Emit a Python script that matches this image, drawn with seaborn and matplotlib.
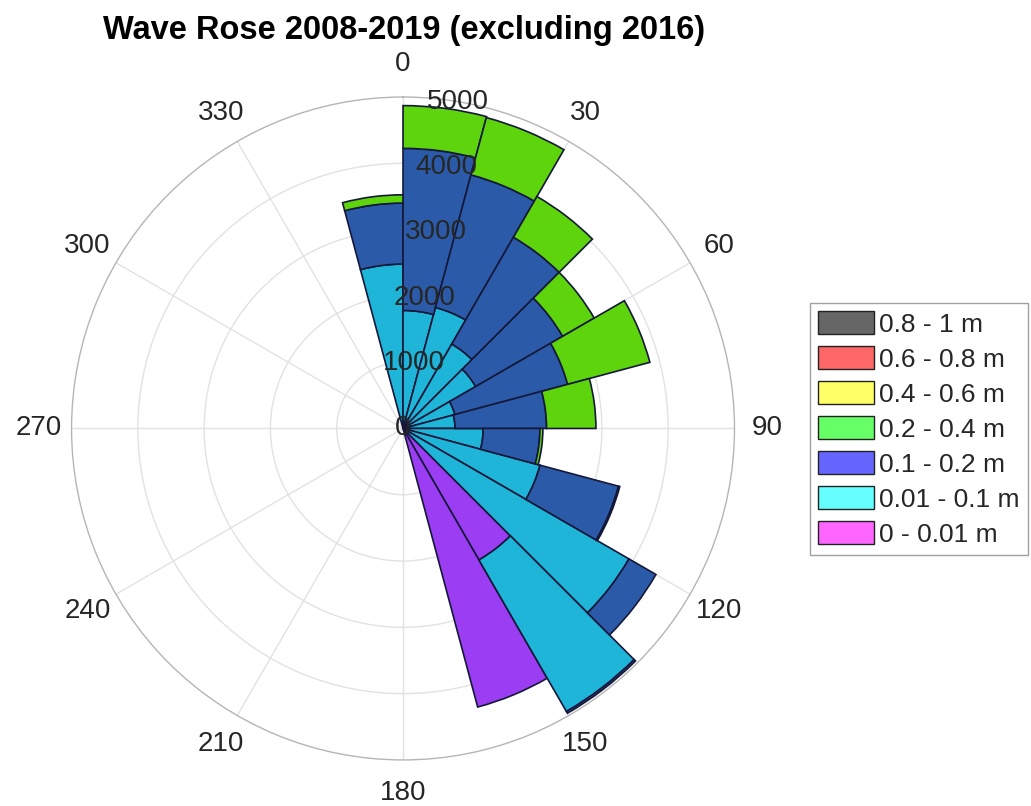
import numpy as np
import matplotlib
matplotlib.use("Agg")
import matplotlib.pyplot as plt
from matplotlib.patches import Patch
import seaborn as sns

# Direction bins (start of each 15-degree sector, compass degrees)
dir_start = [345, 0, 15, 30, 45, 60, 75, 90, 105, 120, 135, 150]
bin_width = 15

# Counts per wave-height class in each direction bin
h_0_001 = [0, 0, 0, 0, 0, 0, 0, 0, 0, 0, 2290, 4350]
h_001_01 = [2480, 1780, 1890, 1470, 1265, 810, 785, 1210, 2140, 3935, 2640, 0]
h_01_02 = [920, 2445, 2070, 1860, 1515, 1760, 1380, 855, 1225, 470, 30, 0]
h_02_04 = [125, 645, 895, 710, 550, 1285, 745, 45, 20, 0, 0, 0]
h_04_06 = [0] * 12
h_06_08 = [0] * 12
h_08_1 = [0] * 12

class_labels = ["0 - 0.01 m", "0.01 - 0.1 m", "0.1 - 0.2 m", "0.2 - 0.4 m",
                "0.4 - 0.6 m", "0.6 - 0.8 m", "0.8 - 1 m"]
r_ticks = [0, 1000, 2000, 3000, 4000, 5000]
theta_ticks = list(range(0, 360, 30))

bar_colors = ["#9b3df2", "#1eb5d8", "#2b5ba8", "#5ed40c",
              "#e8e83a", "#e84a4a", "#555555"]
legend_colors = ["#ff66ff", "#66ffff", "#6666ff", "#66ff66",
                 "#ffff66", "#ff6666", "#666666"]

sns.set_style("white")
plt.rcParams["font.family"] = ["Liberation Sans", "DejaVu Sans"]

fig = plt.figure(figsize=(10.31, 8.06), dpi=100)
ax = fig.add_axes([0.0694, 0.0571, 0.643, 0.8226], projection="polar")
ax.set_theta_zero_location("N")
ax.set_theta_direction(-1)

theta = np.deg2rad(np.array(dir_start) + bin_width / 2)
width = np.deg2rad(bin_width)
series = [h_0_001, h_001_01, h_01_02, h_02_04, h_04_06, h_06_08, h_08_1]
bottom = np.zeros(len(dir_start))
for vals, col in zip(series, bar_colors):
    vals = np.array(vals, dtype=float)
    mask = vals > 0
    ax.bar(theta[mask], vals[mask], width=width, bottom=bottom[mask],
           color=col, edgecolor="#15183a", linewidth=1.2, zorder=3)
    bottom += vals

r_max = r_ticks[-1]
ax.set_ylim(0, r_max)
ax.set_yticks(r_ticks[1:-1])
ax.set_yticklabels([])
ax.set_xticks(np.deg2rad(theta_ticks))
ax.set_xticklabels([])
ax.grid(True, color="#e2e2e2", linewidth=1.0)
ax.set_axisbelow(True)
ax.spines["polar"].set_color("#b5b5b5")
ax.spines["polar"].set_linewidth(1.0)

# direction labels, centred a fixed distance outside the rim
label_r = r_max * (1 + 33 / 331.5)
for t in theta_ticks:
    ax.text(np.deg2rad(t), label_r, str(t), fontsize=20, color="#262626",
            ha="center", va="center", clip_on=False)

# radial labels along a line slightly clockwise of north
for r in r_ticks:
    ax.text(np.deg2rad(9.5) if r > 0 else 0, r, str(r), fontsize=20,
            color="#262626", ha="center", va="center", zorder=6)

fig.text(404 / 1031, 1 - 30 / 806, "Wave Rose 2008-2019 (excluding 2016)",
         fontsize=23.5, fontweight="bold", color="black",
         ha="center", va="center")

handles = [Patch(facecolor=c, edgecolor="#222222", linewidth=1.0, label=l)
           for c, l in zip(legend_colors, class_labels)][::-1]
fig.legend(handles=handles, loc="upper left",
           bbox_to_anchor=(810 / 1031, 1 - 303 / 806), fontsize=19,
           frameon=True, fancybox=False, edgecolor="#8a8a8a",
           handlelength=2.1, handleheight=0.95, handletextpad=0.2,
           labelspacing=0.36, borderpad=0.32, borderaxespad=0.0)

fig.savefig("out.png", dpi=100)
